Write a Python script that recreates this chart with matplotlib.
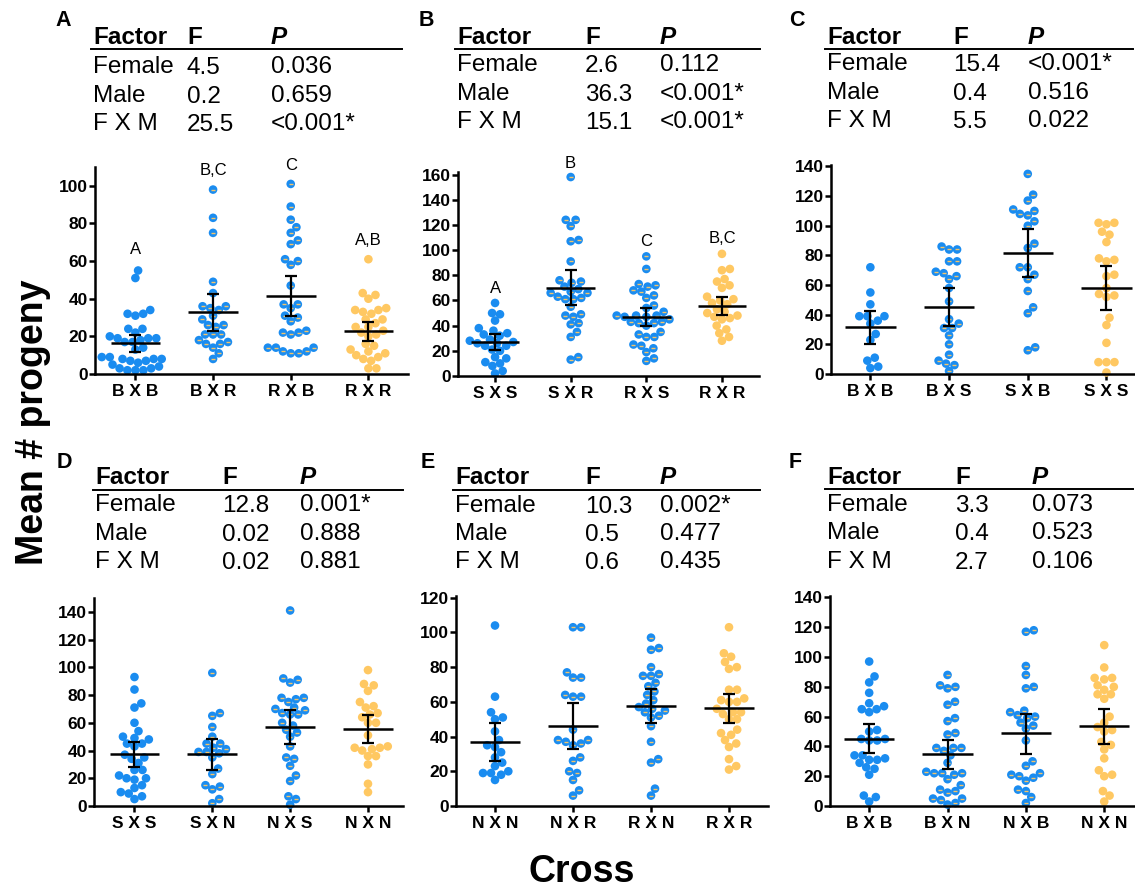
import matplotlib
matplotlib.use('Agg')
import matplotlib.pyplot as plt
from matplotlib.lines import Line2D
import numpy as np

plt.rcParams['font.family'] = ['Liberation Sans', 'DejaVu Sans']

W, H = 1135, 891

# ---------------- DATA ----------------
factors = ['Female', 'Male', 'F X M']

A_labels = ['B X B', 'B X R', 'R X B', 'R X R']
A_F = ['4.5', '0.2', '25.5']
A_P = ['0.036', '0.659', '<0.001*']
A1 = [55, 51, 34, 32, 32, 31, 24, 24, 22, 20, 19, 19, 19, 18, 17, 17, 14, 13, 9, 9, 8, 8, 8, 7, 7, 6, 5, 4, 3, 3, 2, 2, 2]
A2 = [98, 83, 75, 49, 43, 36, 36, 35, 34, 31, 29, 26, 26, 25, 21, 21, 21, 18, 17, 16, 16, 14, 11, 8]
A3 = [101, 89, 82, 78, 75, 71, 69, 61, 60, 58, 47, 37, 37, 35, 31, 30, 28, 23, 22, 22, 21, 14, 14, 14, 12, 12, 11, 11]
A4 = [61, 43, 42, 40, 35, 34, 34, 33, 32, 29, 29, 27, 25, 25, 23, 22, 21, 20, 16, 15, 13, 12, 11, 10, 9, 8, 7, 3, 3]
A_mean = [16.3, 32.9, 41.5, 22.7]
A_lo = [11.6, 23.1, 31.0, 17.8]
A_hi = [20.8, 42.6, 52.3, 27.6]
A_sig = ['A', 'B,C', 'C', 'A,B']
A_sig_y = [66, 108, 110.6, 71]

B_labels = ['S X S', 'S X R', 'R X S', 'R X R']
B_F = ['2.6', '36.3', '15.1']
B_P = ['0.112', '<0.001*', '<0.001*']
B1 = [58, 50, 49, 44, 38, 36, 34, 33, 32, 29, 28, 27, 26, 26, 24, 24, 21, 20, 15, 14, 11, 10, 8, 4, 2]
B2 = [158, 124, 124, 119, 108, 107, 91, 76, 75, 74, 71, 69, 67, 66, 66, 63, 62, 61, 61, 55, 49, 48, 47, 42, 41, 35, 31, 15, 13]
B3 = [95, 85, 73, 72, 71, 68, 67, 64, 62, 56, 54, 51, 48, 48, 48, 47, 47, 45, 43, 43, 42, 42, 40, 35, 33, 31, 31, 25, 24, 22, 19, 14, 12]
B4 = [97, 85, 84, 77, 75, 72, 70, 63, 61, 60, 58, 57, 53, 51, 50, 48, 47, 46, 45, 40, 37, 34, 31, 28]
B_mean = [26.8, 70.2, 47.2, 55.6]
B_lo = [20.7, 56.4, 40.0, 48.5]
B_hi = [33.4, 84.0, 54.3, 63.0]
B_sig = ['A', 'B', 'C', 'B,C']
B_sig_y = [69.7, 169, 107, 109.4]

C_labels = ['B X B', 'B X S', 'S X B', 'S X S']
C_F = ['15.4', '0.4', '5.5']
C_P = ['<0.001*', '0.516', '0.022']
C1 = [72, 55, 47, 39, 39, 39, 36, 34, 27, 23, 11, 9, 5, 4]
C2 = [86, 84, 84, 76, 76, 69, 68, 66, 64, 58, 49, 37, 34, 31, 31, 26, 20, 13, 9, 7, 6, 2]
C3 = [135, 121, 117, 111, 110, 108, 107, 103, 100, 88, 85, 72, 72, 67, 64, 56, 45, 41, 18, 16]
C4 = [102, 102, 101, 96, 94, 89, 78, 77, 76, 67, 66, 58, 54, 53, 52, 38, 33, 21, 8, 8, 8, 1]
C_mean = [31.7, 45.2, 81.9, 58.1]
C_lo = [20.3, 32.4, 65.5, 43.0]
C_hi = [42.8, 57.8, 97.7, 73.1]

D_labels = ['S X S', 'S X N', 'N X S', 'N X N']
D_F = ['12.8', '0.02', '0.02']
D_P = ['0.001*', '0.888', '0.881']
D1 = [93, 84, 74, 71, 60, 54, 50, 49, 48, 45, 45, 43, 37, 35, 34, 31, 26, 26, 22, 20, 20, 19, 15, 13, 10, 9, 7, 5]
D2 = [96, 67, 65, 57, 50, 45, 45, 42, 41, 39, 39, 38, 35, 27, 23, 15, 14, 12, 5, 2]
D3 = [141, 92, 91, 89, 78, 78, 77, 75, 71, 70, 69, 67, 66, 66, 60, 58, 55, 53, 50, 43, 35, 34, 29, 22, 18, 7, 5, 1]
D4 = [98, 88, 87, 83, 75, 72, 71, 67, 66, 64, 60, 60, 51, 43, 42, 42, 41, 40, 36, 36, 30, 16, 10]
D_mean = [37.2, 37.2, 56.9, 55.5]
D_lo = [27.9, 25.7, 44.9, 45.4]
D_hi = [46.1, 48.5, 69.2, 65.3]

E_labels = ['N X N', 'N X R', 'R X N', 'R X R']
E_F = ['10.3', '0.5', '0.6']
E_P = ['0.002*', '0.477', '0.435']
E1 = [104, 63, 54, 51, 50, 43, 38, 35, 34, 31, 28, 25, 23, 20, 19, 19, 18, 15]
E2 = [103, 103, 77, 74, 74, 64, 63, 63, 44, 38, 38, 37, 36, 35, 28, 26, 20, 19, 15, 9, 6]
E3 = [97, 91, 90, 80, 76, 75, 75, 71, 69, 66, 64, 61, 59, 57, 56, 55, 54, 52, 51, 46, 37, 27, 25, 10, 6]
E4 = [103, 88, 86, 83, 80, 79, 67, 67, 62, 61, 60, 60, 56, 54, 54, 53, 50, 50, 44, 42, 41, 38, 36, 34, 27, 23, 21]
E_mean = [37.1, 46.3, 57.9, 56.3]
E_lo = [26.2, 33.1, 48.1, 48.1]
E_hi = [47.9, 59.2, 67.5, 64.4]

F_labels = ['B X B', 'B X N', 'N X B', 'N X N']
F_F = ['3.3', '0.4', '2.7']
F_P = ['0.073', '0.523', '0.106']
F1 = [97, 87, 83, 76, 69, 67, 65, 65, 63, 51, 50, 45, 45, 44, 44, 34, 34, 32, 31, 31, 29, 26, 25, 21, 7, 6, 3]
F2 = [88, 81, 80, 79, 70, 68, 59, 57, 49, 48, 39, 39, 39, 37, 34, 29, 23, 22, 22, 22, 21, 18, 14, 11, 10, 9, 5, 5, 4, 2, 1]
F3 = [118, 117, 94, 88, 80, 79, 64, 63, 61, 60, 59, 56, 54, 52, 44, 30, 27, 22, 21, 20, 19, 17, 11, 10, 6, 2]
F4 = [108, 93, 86, 86, 85, 81, 80, 78, 75, 75, 72, 60, 56, 53, 51, 50, 43, 41, 38, 32, 24, 21, 20, 10, 7, 3]
F_mean = [45.3, 35.0, 48.8, 53.5]
F_lo = [35.6, 25.1, 35.2, 41.4]
F_hi = [55.3, 44.6, 62.1, 65.4]

# ---------------- STYLE / LAYOUT ----------------
BLUE = '#1A8CF0'
ORANGE = '#FFC862'
DASH = '#F4C46A'
group_colors = [BLUE, BLUE, BLUE, ORANGE]
group_dash = [False, True, True, False]

fig = plt.figure(figsize=(W / 100, H / 100), dpi=100)

def fx(x):
    return x / W

def fy(y):
    return 1 - y / H

DIAM = 8.6   # marker diameter in px
SEP = 8.0    # collision distance in px


def swarm_offsets(ax, vals, xc):
    T = ax.transData
    x0 = T.transform((xc, 0))[0]
    ypx = np.array([T.transform((0, v))[1] for v in vals])
    order = np.argsort(ypx)
    placed = []
    offs = np.zeros(len(vals))
    for i in order:
        y = ypx[i]
        cands = [0.0]
        near = [(px, py) for (px, py) in placed if abs(py - y) < SEP]
        for (px, py) in near:
            dx = np.sqrt(max(SEP ** 2 - (py - y) ** 2, 0)) + 0.01
            cands += [px + dx, px - dx]
        cands = sorted(cands, key=lambda c: (abs(c), -c))
        for c in cands:
            if all((c - px) ** 2 + (y - py) ** 2 >= SEP ** 2 - 1e-6 for (px, py) in near):
                offs[i] = c
                placed.append((c, y))
                break
    inv = T.inverted()
    return np.array([inv.transform((x0 + o, yy))[0] for o, yy in zip(offs, ypx)])


def draw_panel(box, xlim, ylim, yticks, groups, labels, means, lo, hi, sig=None, sig_y=None):
    l, r, b, t = box
    ax = fig.add_axes([fx(l), fy(b), fx(r - l), (b - t) / H])
    ax.set_xlim(*xlim)
    ax.set_ylim(*ylim)
    for s in ['top', 'right']:
        ax.spines[s].set_visible(False)
    for s in ['left', 'bottom']:
        ax.spines[s].set_linewidth(1.8)
    ax.set_yticks(yticks)
    ax.set_xticks(range(4))
    ax.set_xticklabels(labels, fontweight='bold', fontsize=12.5)
    ax.set_yticklabels([str(v) for v in yticks], fontweight='bold', fontsize=12.5)
    ax.tick_params(axis='both', direction='out', length=4, width=1.8, pad=1.2)
    ax.tick_params(axis='x', pad=3)
    for i, vals in enumerate(groups):
        xs = swarm_offsets(ax, vals, i)
        ax.scatter(xs, vals, s=DIAM ** 2 * 0.52, c=group_colors[i], edgecolors='none',
                   zorder=2, clip_on=False)
        if group_dash[i]:
            ax.scatter(xs, vals, s=7, marker='_', c=DASH, linewidths=1.0, zorder=2.5,
                       clip_on=False)
    for i in range(4):
        ax.hlines(means[i], i - 0.32, i + 0.32, colors='k', lw=1.8, zorder=4, clip_on=False)
    ax.errorbar(range(4), means,
                yerr=[np.array(means) - np.array(lo), np.array(hi) - np.array(means)],
                fmt='none', ecolor='k', elinewidth=1.6, capsize=4.5, capthick=1.6, zorder=4)
    if sig is not None:
        for i, (s_, y_) in enumerate(zip(sig, sig_y)):
            ax.text(i, y_, s_, ha='center', va='center', fontsize=12, clip_on=False)
    return ax


def draw_table(letter, lx, ly, hx, hy, fcol, pcol, line_y, line_x1, rows_y, Fv, Pv):
    fs = 17.5
    fig.text(fx(lx), fy(ly), letter, fontsize=15.5, fontweight='bold', ha='left', va='center')
    fig.text(fx(hx), fy(hy), 'Factor', fontsize=fs, fontweight='bold', ha='left', va='center')
    fig.text(fx(fcol), fy(hy), 'F', fontsize=fs, fontweight='bold', ha='left', va='center')
    fig.text(fx(pcol), fy(hy), 'P', fontsize=fs, fontweight='bold', style='italic',
             ha='left', va='center')
    fig.add_artist(Line2D([fx(hx - 2), fx(line_x1)], [fy(line_y), fy(line_y)],
                          color='k', lw=1.4))
    for fac, fv, pv, ry in zip(factors, Fv, Pv, rows_y):
        fig.text(fx(hx), fy(ry), fac, fontsize=fs, ha='left', va='center')
        fig.text(fx(fcol), fy(ry + 1), fv, fontsize=fs, ha='left', va='center')
        fig.text(fx(pcol), fy(ry), pv, fontsize=fs, ha='left', va='center')


# Panels (pixel boxes: left, right, bottom, top)
draw_panel((95, 408, 374, 167), (-0.52, 3.51), (0, 110), list(range(0, 101, 20)),
           [A1, A2, A3, A4], A_labels, A_mean, A_lo, A_hi, A_sig, A_sig_y)
draw_panel((458, 759, 376, 172), (-0.49, 3.49), (0, 162), list(range(0, 161, 20)),
           [B1, B2, B3, B4], B_labels, B_mean, B_lo, B_hi, B_sig, B_sig_y)
draw_panel((831, 1134, 374, 165), (-0.5, 3.35), (0, 141), list(range(0, 141, 20)),
           [C1, C2, C3, C4], C_labels, C_mean, C_lo, C_hi)
draw_panel((94, 403, 806, 598), (-0.52, 3.45), (0, 150), list(range(0, 141, 20)),
           [D1, D2, D3, D4], D_labels, D_mean, D_lo, D_hi)
draw_panel((456, 768, 806, 596), (-0.5, 3.5), (0, 121), list(range(0, 121, 20)),
           [E1, E2, E3, E4], E_labels, E_mean, E_lo, E_hi)
draw_panel((830, 1134, 806, 596), (-0.5, 3.38), (0, 141), list(range(0, 141, 20)),
           [F1, F2, F3, F4], F_labels, F_mean, F_lo, F_hi)

# Tables
draw_table('A', 55, 20, 93, 38, 187, 271, 49, 402, [67, 96, 124], A_F, A_P)
draw_table('B', 419, 20, 457, 37, 585, 660, 49, 760, [65, 94, 122], B_F, B_P)
draw_table('C', 789, 20, 827, 37, 953, 1028, 49, 1133, [64, 93, 121], C_F, C_P)
draw_table('D', 57, 462, 95, 477, 222, 300, 490, 403, [505, 534, 562], D_F, D_P)
draw_table('E', 421, 462, 455, 477, 585, 660, 490, 760, [506, 534, 562], E_F, E_P)
draw_table('F', 789, 462, 827, 477, 955, 1032, 489, 1133, [505, 533, 562], F_F, F_P)

fig.text(fx(33), fy(422), 'Mean # progeny', rotation=90, fontsize=27, fontweight='bold',
         ha='center', va='center')
fig.text(fx(582), fy(872), 'Cross', fontsize=27, fontweight='bold', ha='center', va='center')

fig.savefig('out.png', dpi=100)
